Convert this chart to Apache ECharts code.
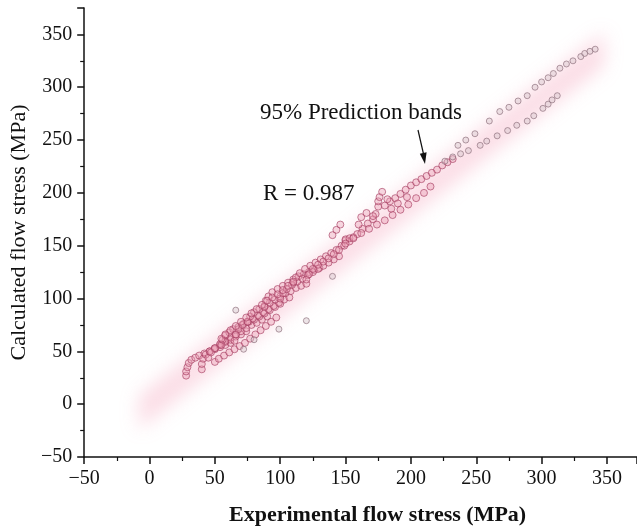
<!DOCTYPE html>
<html>
<head>
<meta charset="utf-8">
<script src="https://cdn.jsdelivr.net/npm/echarts@6.0.0/dist/echarts.min.js"></script>
<style>html,body{margin:0;padding:0;background:#fff}#c{width:637px;height:531px}</style>
</head>
<body>
<div id="c"></div>
<script>
// ---- Data ----
// 95% prediction band edges
const bandX     = [-8, 348];
const bandLower = [-24, 320];
const bandUpper = [8, 352];

// Low cluster (experimental, calculated)
const lowExp = [28,28,29,30,32,35,38,42,46,50,54,58,62,
  40,40,41,43,46,50,54,58,62,66,70,74,
  45,47,50,54,58,62,66,70,74,78,82,86,90,
  55,56,58,61,64,68,72,76,80,84,88,92,96,100,
  65,66,68,71,75,79,83,87,91,95,99,103,107,
  75,77,80,84,88,92,96,100,104,108,112,116,120,
  88,89,91,94,98,102,106,110,114,118,122,126,130,
  100,102,105,109,113,117,121,125,129,133,137,141,145,
  110,112,115,119,123,127,131,135,139,143,147,150,
  120,122,125,129,133,137,141,145,149,153,
  50,53,57,61,65,69,73,77,81,85,89,93,97,
  55,58,62,66,70,74,78,82,86,90,94,98,102,106,110];
const lowCalc = [27,31,35,39,42,44,46,48,50,52,54,56,58,
  33,38,43,47,50,53,56,59,61,64,66,69,
  44,49,53,57,60,63,66,69,72,75,77,80,83,
  56,61,65,68,71,73,76,78,80,83,86,89,92,95,
  60,66,71,75,78,81,84,87,90,93,96,99,101,
  78,83,87,90,93,96,99,102,105,107,110,112,114,
  92,98,102,106,109,112,115,118,121,123,125,127,129,
  100,105,109,113,116,119,122,125,128,131,134,137,140,
  115,120,124,128,131,134,137,140,143,146,150,155,
  118,123,128,132,135,138,142,146,150,154,
  40,43,46,49,52,55,58,62,66,70,74,78,82,
  62,66,70,74,78,82,86,90,94,98,101,104,108,112,116];

// Middle section: hook, lower strand, upper strand, scattered points
const midExp = [150,153,156,159,163,167,171,173,175,175,176,178,
  150,156,162,168,174,180,186,192,198,204,210,215,
  180,184,188,192,196,200,204,208,212,216,220,224,228,232,
  182,185,171,162,166,160,190,197,140,143,146];
const midCalc = [156,157,158,161,166,171,175,180,187,192,196,201,
  152,157,162,166,170,174,179,184,189,195,200,206,
  188,192,195,199,203,207,210,213,216,219,222,226,229,232,
  194,185,178,177,181,170,190,196,160,165,170];

// Upper row at the top right
const upperExp  = [236,242,249,260,268,275,282,289,295,300,305,309,314,319,324,330,333,337,341];
const upperCalc = [245,250,256,268,277,281,287,292,300,305,309,313,318,322,325,329,332,334,336];

// Lower row at the top right
const lowerExp  = [226,232,238,244,253,258,266,274,281,289,294,301,305,308,312];
const lowerCalc = [230,234,237,240,245,249,254,259,264,268,273,280,284,288,292];

// Outlying points
const outExp  = [66,72,80,99,120,140];
const outCalc = [89,52,61,71,79,121];

// Axis ticks
const axisMin = -50, xMax = 373, yMax = 375, tickStep = 50;

// ---- Chart ----
const pair = (xs, ys) => xs.map((x, i) => [x, ys[i]]);
const FONT = '"Liberation Serif","Times New Roman",serif';
const fmt = v => (v < 0 ? '\u2212' + Math.abs(v) : String(v));

const ptStyle = {
  color: 'rgba(236,158,180,0.5)',
  borderColor: 'rgba(165,60,95,0.8)',
  borderWidth: 1
};
const ptStyleGray = {
  color: 'rgba(215,195,202,0.55)',
  borderColor: 'rgba(135,105,118,0.8)',
  borderWidth: 1
};

const chart = echarts.init(document.getElementById('c'), null, {renderer: 'canvas'});
const axisCommon = {
  type: 'value',
  min: axisMin,
  interval: tickStep,
  splitLine: {show: false},
  axisLine: {show: true, onZero: false, lineStyle: {color: '#111', width: 1.5}},
  axisTick: {show: true, inside: false, length: 7, lineStyle: {color: '#111', width: 1.5}},
  minorTick: {show: true, splitNumber: 2, length: 4, lineStyle: {color: '#111', width: 1.2}},
  nameLocation: 'middle',
  nameTextStyle: {fontFamily: FONT, fontSize: 22, color: '#111'}
};

chart.setOption({
  animation: false,
  backgroundColor: '#fff',
  grid: {left: 82, right: 0, top: 8, bottom: 74},
  xAxis: Object.assign({}, axisCommon, {
    max: xMax,
    name: 'Experimental flow stress (MPa)',
    nameGap: 47,
    nameTextStyle: {fontFamily: FONT, fontSize: 22, fontWeight: 'bold', color: '#111', padding: [0, 0, 0, 34]},
    axisLabel: {fontFamily: FONT, fontSize: 20, color: '#111', margin: 12, formatter: fmt, showMaxLabel: false}
  }),
  yAxis: Object.assign({}, axisCommon, {
    max: yMax,
    name: 'Calculated flow stress (MPa)',
    nameGap: 46,
    axisLabel: {fontFamily: FONT, fontSize: 20, color: '#111', margin: 12, formatter: fmt, showMaxLabel: false}
  }),
  series: [
    {
      type: 'custom',
      coordinateSystem: 'cartesian2d',
      silent: true,
      clip: false,
      z: 1,
      data: [[bandX[0], bandLower[0]]],
      renderItem: function (params, api) {
        const pts = [];
        for (let i = 0; i < bandX.length; i++) pts.push(api.coord([bandX[i], bandLower[i]]));
        for (let i = bandX.length - 1; i >= 0; i--) pts.push(api.coord([bandX[i], bandUpper[i]]));
        const off = 3000;
        return {
          type: 'polygon',
          shape: {points: pts.map(p => [p[0] + off, p[1]])},
          style: {
            fill: '#f2a6bb',
            shadowBlur: 18,
            shadowColor: 'rgba(244,165,188,0.38)',
            shadowOffsetX: -off,
            shadowOffsetY: 0
          }
        };
      }
    },
    {type: 'scatter', z: 3, symbol: 'circle', symbolSize: 7, itemStyle: ptStyle, data: pair(lowExp, lowCalc)},
    {type: 'scatter', z: 3, symbol: 'circle', symbolSize: 7, itemStyle: ptStyle, data: pair(midExp, midCalc)},
    {type: 'scatter', z: 3, symbol: 'circle', symbolSize: 6, itemStyle: ptStyleGray, data: pair(upperExp, upperCalc)},
    {type: 'scatter', z: 3, symbol: 'circle', symbolSize: 6, itemStyle: ptStyleGray, data: pair(lowerExp, lowerCalc)},
    {type: 'scatter', z: 3, symbol: 'circle', symbolSize: 6, itemStyle: ptStyleGray, data: pair(outExp, outCalc)}
  ],
  graphic: [
    {type: 'text', left: 260, top: 101, z: 10,
     style: {text: '95% Prediction bands', font: '23px ' + FONT, fill: '#111'}},
    {type: 'text', left: 263, top: 182, z: 10,
     style: {text: 'R = 0.987', font: '23px ' + FONT, fill: '#111'}},
    {type: 'line', z: 10, shape: {x1: 418, y1: 130, x2: 423.5, y2: 154},
     style: {stroke: '#111', lineWidth: 1.2}},
    {type: 'polygon', z: 10, shape: {points: [[426.6, 152.3], [419.8, 153.7], [425, 164]]},
     style: {fill: '#111'}}
  ]
});
</script>
</body>
</html>
